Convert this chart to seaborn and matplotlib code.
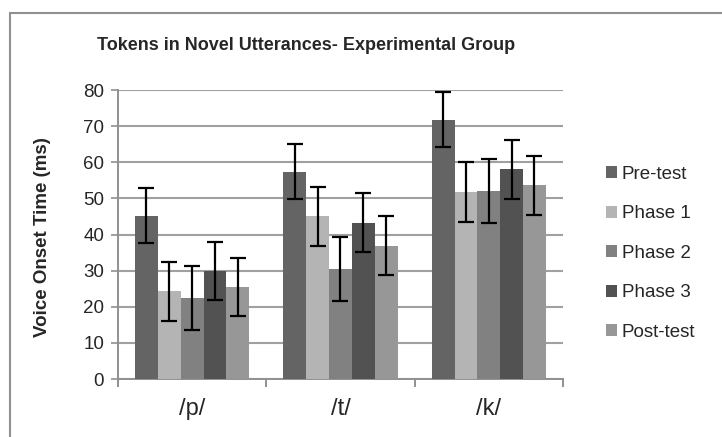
import matplotlib
matplotlib.use("Agg")
import matplotlib.pyplot as plt
import seaborn as sns
import pandas as pd
import numpy as np
from matplotlib.lines import Line2D

# Data
categories = ["/p/", "/t/", "/k/"]
phases = ["Pre-test", "Phase 1", "Phase 2", "Phase 3", "Post-test"]
pre_test = [45.2, 57.4, 71.8]
phase_1 = [24.3, 45.1, 51.9]
phase_2 = [22.5, 30.5, 52.1]
phase_3 = [29.9, 43.3, 58.1]
post_test = [25.5, 36.9, 53.6]
pre_err = [7.6, 7.6, 7.6]
p1_err = [8.2, 8.2, 8.3]
p2_err = [8.8, 8.8, 8.9]
p3_err = [8.1, 8.1, 8.2]
post_err = [8.1, 8.2, 8.2]

colors = ["#646464", "#b4b4b4", "#818181", "#525252", "#979797"]

values = [pre_test, phase_1, phase_2, phase_3, post_test]
errors = [pre_err, p1_err, p2_err, p3_err, post_err]
rows = []
for ph, vals, errs in zip(phases, values, errors):
    for cat, v, e in zip(categories, vals, errs):
        rows.append({"Sound": cat, "Phase": ph, "VOT": v, "err": e})
df = pd.DataFrame(rows)

sns.set_theme(style="white")
plt.rcParams["font.family"] = ["Liberation Sans", "DejaVu Sans"]

fig = plt.figure(figsize=(7.22, 4.37), dpi=100)
ax = fig.add_axes([0.1634, 0.1327, 0.6163, 0.661])

sns.barplot(data=df, x="Sound", y="VOT", hue="Phase", order=categories,
            hue_order=phases, palette=colors, width=0.77, gap=0,
            saturation=1, errorbar=None, ax=ax, zorder=3, linewidth=0)

# Error bars centred on each bar
for ph, container in zip(phases, ax.containers):
    sub = df[df["Phase"] == ph].set_index("Sound").loc[categories]
    xs = [p.get_x() + p.get_width() / 2 for p in container.patches]
    ax.errorbar(xs, sub["VOT"].values, yerr=sub["err"].values, fmt="none",
                ecolor="black", elinewidth=1.6, capsize=5.5, capthick=1.6,
                zorder=4)

ax.set_ylim(0, 80)
ax.set_xlim(-0.5, 2.5)
ax.set_yticks(np.arange(0, 81, 10))
ax.yaxis.grid(True, color="#a0a0a0", linewidth=1.5, zorder=0)
ax.set_axisbelow(True)
ax.tick_params(axis="y", which="major", length=5, width=1.2, color="#909090",
               labelsize=13.5, pad=5, left=True)
ax.set_xticks(range(len(categories)))
ax.set_xticklabels(categories, fontsize=17)
ax.tick_params(axis="x", which="major", length=0, pad=14)
ax.set_xticks([-0.5, 0.5, 1.5, 2.5], minor=True)
ax.tick_params(axis="x", which="minor", length=6, width=1.4, color="#909090",
               bottom=True)
for side in ["top", "right"]:
    ax.spines[side].set_visible(False)
for side in ["left", "bottom"]:
    ax.spines[side].set_color("#909090")
    ax.spines[side].set_linewidth(1.4)

ax.set_xlabel("")
ax.set_ylabel("Voice Onset Time (ms)", fontsize=13.5, fontweight="bold")
ax.yaxis.set_label_coords(-0.15, 0.49)

fig.text(0.424, 0.897, "Tokens in Novel Utterances- Experimental Group",
         ha="center", va="center", fontsize=13, fontweight="bold")

leg = ax.legend(loc="center left", bbox_to_anchor=(1.08, 0.435), frameon=False,
                fontsize=13.5, handlelength=0.6, handleheight=0.6,
                handletextpad=0.25, labelspacing=1.2, borderaxespad=0)

# Chart border (left and top edges visible in the crop)
fig.add_artist(Line2D([10 / 722, 10 / 722], [0, 1 - 13 / 437],
                      transform=fig.transFigure, color="#909090", lw=1.5))
fig.add_artist(Line2D([10 / 722, 1], [1 - 13 / 437, 1 - 13 / 437],
                      transform=fig.transFigure, color="#909090", lw=1.5))

fig.savefig("out.png", dpi=100)
